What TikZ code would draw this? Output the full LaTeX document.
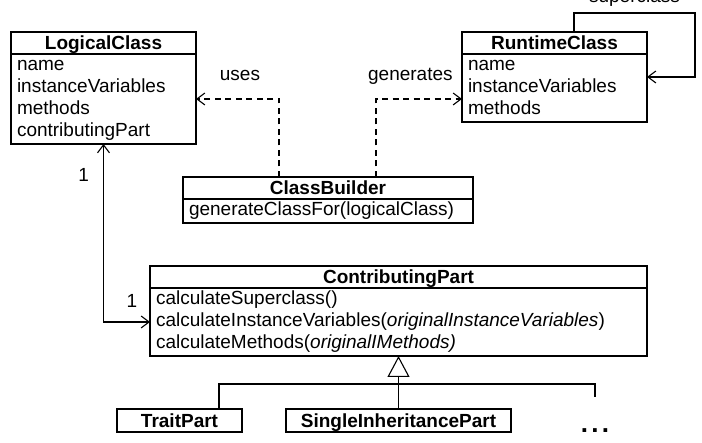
\documentclass[tikz,border=0pt]{standalone}
\usepackage{fontspec}
\setmainfont{Liberation Sans}
\usepackage{tikz}
\usetikzlibrary{arrows.meta,positioning}
\newcommand{\umlbody}{\fontsize{19}{22}\selectfont}
\newcommand{\umlhead}{\fontsize{19}{22}\selectfont\bfseries}
\tikzstyle{classhead} = [rectangle, draw=black, line width=1.3pt, outer sep=0pt, inner sep=0pt, minimum height=22pt, text height=13.6pt, text depth=0pt, font=\umlhead]
\tikzstyle{classbody} = [rectangle, draw=black, line width=1.3pt, outer sep=0pt, inner xsep=6pt, inner ysep=1pt, align=left, font=\umlbody, execute at begin node=\strut, execute at end node=\strut]
\tikzstyle{subclass} = [classhead, minimum height=23pt]
\tikzstyle{depend} = [->, line width=1.1pt, dash pattern=on 6pt off 4.5pt]
\tikzstyle{assoc} = [->, line width=1.1pt]
\tikzstyle{inherit} = [-{Triangle[open,length=21pt,width=22pt]}, line width=1.1pt]
\tikzstyle{lbl} = [font=\umlbody, inner sep=0pt]

\begin{document}
\begin{tikzpicture}[x=1pt, y=1pt, >={Straight Barb[length=8pt,width=12pt]}]
    \useasboundingbox (0,0) rectangle (702,443);

    \node (lchead) [classhead, minimum width=185pt] at (103.5,400) {LogicalClass};
    \node (lcbody) [classbody, text width=173pt, below=0pt of lchead] {name\\instanceVariables\\methods\\contributingPart};

    \node (rchead) [classhead, minimum width=185pt] at (554.5,400) {RuntimeClass};
    \node (rcbody) [classbody, text width=173pt, below=0pt of rchead] {name\\instanceVariables\\methods};

    \node (cbhead) [classhead, minimum width=290pt] at (328,255) {ClassBuilder};
    \node (cbbody) [classbody, text width=278pt, below=0pt of cbhead] {generateClassFor(logicalClass)};

    \node (cphead) [classhead, minimum width=497pt] at (398.5,166) {ContributingPart};
    \node (cpbody) [classbody, text width=485pt, below=0pt of cphead] {calculateSuperclass()\\calculateInstanceVariables(\textit{originalInstanceVariables})\\calculateMethods(\textit{originalIMethods)}};

    \node (tp) [subclass, minimum width=125pt] at (179.5,22.5) {TraitPart};
    \node (sip) [subclass, minimum width=225pt] at (398.5,22.5) {SingleInheritancePart};
    \node (more) [anchor=base, inner sep=0pt, font=\fontsize{26}{26}\selectfont\bfseries] at (595,10) {.\hspace{3.3pt}.\hspace{3.3pt}.};
    \coordinate (moretop) at (595,46);

    \draw[depend] ([xshift=96pt]cbhead.north west) |- (lcbody.east) node[lbl, pos=0.735, anchor=base, yshift=18pt] {uses};
    \draw[depend] ([xshift=193pt]cbhead.north west) |- (rcbody.west |- lcbody.east) node[lbl, pos=0.7, anchor=base, yshift=18pt] {generates};
    \draw[assoc] ([xshift=19.5pt]rchead.north) -- ++(0,19) -| ([xshift=48pt,yshift=11pt]rcbody.east) node[lbl, pos=0.25, anchor=base, yshift=10pt] {superclass} -- ([yshift=11pt]rcbody.east);
    \draw[assoc, <->] (lcbody.south) |- (cpbody.west) node[lbl, pos=0.087, left=14pt] {1} node[lbl, pos=0.806, above=13.5pt] {1};

    \draw[inherit] (sip.north) -- (cpbody.south);
    \draw[line width=1.1pt] ([xshift=39.5pt]tp.north) -- ++(0,25) -| (moretop);

\end{tikzpicture}
\end{document}
